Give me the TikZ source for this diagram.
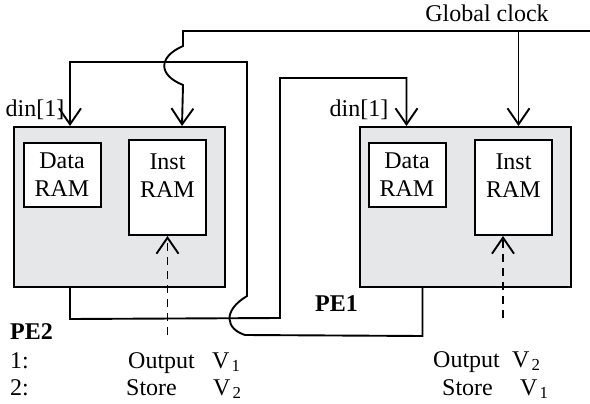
\documentclass[tikz,border=0pt]{standalone}
\usepackage{fontspec}
\setmainfont{Liberation Serif}
\usetikzlibrary{arrows.meta}

\definecolor{pegray}{RGB}{230,231,232}

\begin{document}
\begin{tikzpicture}[x=1pt, y=-1pt, >={Straight Barb[length=16pt,width=22pt]},
  every node/.style={font=\fontsize{24}{28}\selectfont, inner sep=0pt},
  wire/.style={line width=1.9pt},
  pebox/.style={draw, line width=2pt, fill=pegray, minimum width=211pt, minimum height=160pt},
  rambox/.style={draw, line width=2pt, fill=white, minimum width=77pt, align=center}]
  \useasboundingbox (0,0) rectangle (590,404);
  % processing elements
  \node[pebox] (pe2) at (119.5,207) {};
  \node[pebox] (pe1) at (465,207) {};
  \node[rambox, minimum height=64pt] (data2) at (62,175) {Data\\RAM};
  \node[rambox, minimum height=95pt, label={[anchor=north, align=center, yshift=-15pt]north:Inst\\RAM}] (inst2) at (167.5,187.5) {};
  \node[rambox, minimum height=64pt] (data1) at (407,175) {Data\\RAM};
  \node[rambox, minimum height=95pt, label={[anchor=north, align=center, yshift=-15pt]north:Inst\\RAM}] (inst1) at (513.5,187.5) {};

  % global clock
  \coordinate (clk) at (590,31);
  \node[anchor=base] (clklabel) at (487,22) {Global clock};
  \draw[wire, ->] (clk) -- (183,31) -- (183,46) .. controls (158,57) and (158,75) .. (183,85) -- ([xshift=169pt]pe2.north west);
  \draw[wire, ->] (clk) -| ([xshift=160pt]pe1.north west);

  % din[1] links
  \node[anchor=base] (din2) at (35,117) {din[1]};
  \node[anchor=base] (din1) at (359,117) {din[1]};
  \draw[wire, ->] ([xshift=57pt]pe2.south west) -- ++(0,31) -- (280,318) -- (280,78) -| ([xshift=48pt]pe1.north west);
  \draw[wire, ->] ([xshift=64pt]pe1.south west) -- ++(0,48) -- (245,335) .. controls (226,329) and (222,311) .. (247,296) -- (247,62) -| ([xshift=57pt]pe2.north west);

  % instruction inputs
  \coordinate (op2) at (167.5,335);
  \coordinate (op1) at (503,318);
  \draw[wire, dash pattern=on 8pt off 6pt, ->] (op2) -- (inst2.south);
  \draw[wire, dash pattern=on 8pt off 6pt, ->] (op1) -- (op1 |- inst1.south);

  % programs
  \node[anchor=base west, font=\fontsize{24}{28}\selectfont\bfseries] (pe2name) at (10,339) {PE2};
  \node[anchor=base west, font=\fontsize{24}{28}\selectfont\bfseries] (pe1name) at (315,311) {PE1};
  \node[anchor=base west] (step21) at (10,368) {1:};
  \node[anchor=base west] (step22) at (10,395) {2:};
  \node[anchor=base west] (out2) at (128,368) {Output};
  \node[anchor=base west] (vout2) at (212,368) {V\kern2pt\textsubscript{1}};
  \node[anchor=base west] (store2) at (126,395) {Store};
  \node[anchor=base west] (vstore2) at (213,395) {V\kern2pt\textsubscript{2}};
  \node[anchor=base west] (out1) at (433,367) {Output};
  \node[anchor=base west] (vout1) at (512,367) {V\kern2pt\textsubscript{2}};
  \node[anchor=base west] (store1) at (442,395) {Store};
  \node[anchor=base west] (vstore1) at (520,395) {V\kern2pt\textsubscript{1}};
\end{tikzpicture}
\end{document}
